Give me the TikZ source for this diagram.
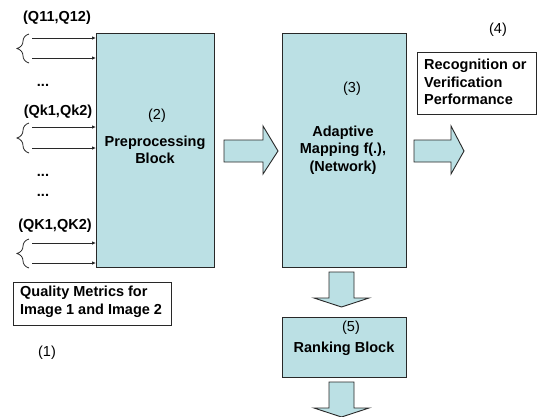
\documentclass[tikz,border=0pt]{standalone}
\usepackage{fontspec}
\setmainfont{Liberation Sans}
\usetikzlibrary{arrows.meta,decorations.pathreplacing}
\definecolor{blockfill}{RGB}{187,224,228}
\definecolor{edge}{RGB}{40,40,40}
\tikzset{
  lbl/.style={font=\fontsize{14.5}{17.5}\selectfont\bfseries, inner sep=0pt},
  num/.style={font=\fontsize{14.5}{17.5}\selectfont, inner sep=0pt},
  block/.style={draw=edge, line width=0.9pt, fill=blockfill},
  textbox/.style={draw=edge, line width=0.9pt, fill=white},
  fat/.style={draw=edge, line width=0.9pt, fill=blockfill},
  feed/.style={draw=edge, line width=0.8pt, -{Latex[length=4pt,width=3.5pt]}},
  curly/.style={draw=edge, line width=0.8pt, decorate, decoration={brace,amplitude=12pt}}
}
\begin{document}
\begin{tikzpicture}[x=1pt,y=-1pt]
\clip (0,0) rectangle (537,416);
\fill[white] (0,0) rectangle (537,416);

% processing blocks
\draw[block] (96,33) rectangle (214,267);
\draw[block] (282,33) rectangle (406,267);
\draw[block] (282,317) rectangle (406,377);

% wide arrows between the blocks
\draw[fat] (224,140) -- (263,140) -- (263,126) -- (278,151) -- (263,174) -- (263,162) -- (224,162) -- cycle;
\draw[fat] (414,140) -- (451,140) -- (451,126) -- (464,151) -- (451,174) -- (451,162) -- (414,162) -- cycle;
\draw[fat] (329,272) -- (354,272) -- (354,298) -- (369,298) -- (341.5,307) -- (314,298) -- (329,298) -- cycle;
\draw[fat] (329,382) -- (354,382) -- (354,408) -- (369,408) -- (341.5,417) -- (314,408) -- (329,408) -- cycle;

% inputs: pairs of quality metrics
\foreach \ya/\yb [count=\i] in {38/58, 127/148, 243/263}{
  \coordinate (s\i a) at (32,\ya);
  \coordinate (s\i b) at (32,\yb);
  \coordinate (e\i a) at (96,\ya);
  \coordinate (e\i b) at (96,\yb);
  \draw[feed] (s\i a) -- (e\i a);
  \draw[feed] (s\i b) -- (e\i b);
  \draw[curly] (29,\yb+5) -- (29,\ya-4);
}

\node[lbl] (q1) at (57,18) {(Q11,Q12)};
\node[lbl] (qk) at (58,112) {(Qk1,Qk2)};
\node[lbl] (qK) at (55,226) {(QK1,QK2)};
\node[lbl, anchor=base] (d1) at (43,86) {...};
\node[lbl, anchor=base] (d2) at (43,176) {...};
\node[lbl, anchor=base] (d3) at (43,196) {...};

% block texts
\node[num] (n2) at (157,116) {(2)};
\node[lbl, align=center] (prep) at (155,150) {Preprocessing\\Block};
\node[num] (n3) at (352,89) {(3)};
\node[lbl, align=center] (adap) at (343,150) {Adaptive\\Mapping f(.),\\(Network)};
\node[num] (n5) at (351,328) {(5)};
\node[lbl] (rank) at (344,349) {Ranking Block};

% output and legend boxes
\draw[textbox] (417,52) rectangle (536,114);
\node[lbl, align=left, anchor=north west] (perf) at (424,59) {Recognition or\\Verification\\Performance};
\node[num] (n4) at (498,30) {(4)};

\draw[textbox] (13,282) rectangle (171,325);
\node[lbl, align=left, anchor=north west] (qm) at (20,286) {Quality Metrics for\\Image 1 and Image 2};
\node[num] (n1) at (47,353) {(1)};
\end{tikzpicture}
\end{document}
